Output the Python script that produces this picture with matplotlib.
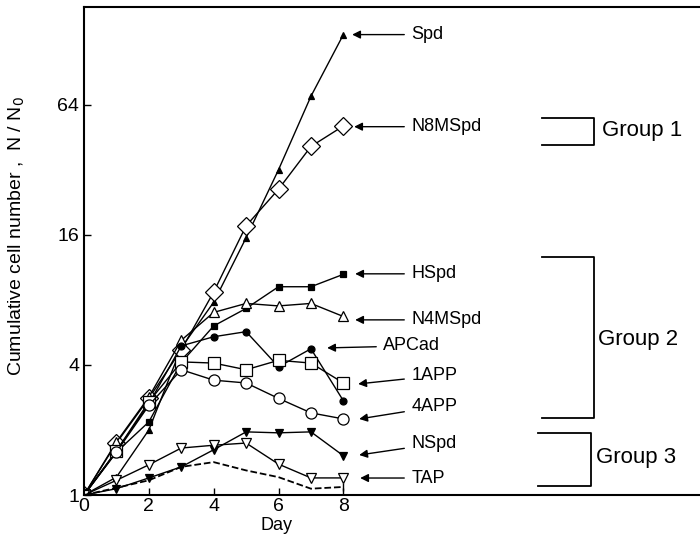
import numpy as np
import matplotlib.pyplot as plt

plt.rcParams['font.family'] = ['Liberation Sans', 'DejaVu Sans']

# du lieu doc tu hinh
days = [0, 1, 2, 3, 4, 5, 6, 7, 8]
spd = [1, 1.21, 2.0, 4.8, 7.8, 15.5, 32, 70, 135]
n8mspd = [1, 1.74, 2.8, 4.7, 8.7, 17.6, 26, 41, 51]
hspd = [1, 1.58, 2.18, 4.1, 6.06, 7.3, 9.2, 9.2, 10.5]
n4mspd = [1, 1.76, 2.84, 5.2, 7.0, 7.7, 7.5, 7.7, 6.7]
apcad = [1, 1.6, 2.64, 4.9, 5.4, 5.7, 3.92, 4.75, 2.73]
app1 = [1, 1.6, 2.7, 4.13, 4.08, 3.8, 4.2, 4.08, 3.3]
app4 = [1, 1.58, 2.6, 3.8, 3.4, 3.3, 2.8, 2.4, 2.25]
nspd = [1, 1.07, 1.2, 1.35, 1.62, 1.96, 1.94, 1.96, 1.52]
tap = [1, 1.17, 1.38, 1.65, 1.7, 1.74, 1.39, 1.2, 1.2]
control = [1, 1.08, 1.17, 1.35, 1.42, 1.3, 1.21, 1.07, 1.09]

labels = ['Spd', 'N8MSpd', 'HSpd', 'N4MSpd', 'APCad', '1APP', '4APP', 'NSpd', 'TAP']
yticks = [1, 4, 16, 64]
xticks = [0, 2, 4, 6, 8]

fig = plt.figure(figsize=(7, 5.44), dpi=100)
ax = fig.add_axes([0.12, 0.09, 0.88, 0.897])

# (du lieu, marker, kich thuoc, to mau)
series = [
    (spd, '^', 5, 'k'),
    (n8mspd, 'D', 9, 'w'),
    (hspd, 's', 5, 'k'),
    (n4mspd, '^', 7, 'w'),
    (apcad, 'o', 5, 'k'),
    (app1, 's', 9, 'w'),
    (app4, 'o', 8, 'w'),
    (nspd, 'v', 6, 'k'),
    (tap, 'v', 7, 'w'),
]
for vals, m, ms, fc in series:
    ax.plot(days, vals, '-', color='k', lw=1, marker=m, markersize=ms,
            markerfacecolor=fc, markeredgecolor='k', markeredgewidth=0.9)

ax.plot(days, control, '--', color='k', lw=1.3)
ax.plot(days[-1], control[-1], marker='|', color='k', markersize=6)

ax.set_yscale('log', base=2)
ax.set_xlim(0, 19)
ax.set_ylim(1, 2 ** 7.5)
ax.set_yticks(yticks)
ax.set_yticklabels([str(t) for t in yticks])
ax.set_xticks(xticks)
ax.minorticks_off()
ax.tick_params(direction='in', length=5, labelsize=14, width=1)
ax.tick_params(axis='x', pad=2)
for s in ['left', 'bottom', 'top']:
    ax.spines[s].set_linewidth(1.5)
ax.spines['right'].set_visible(False)

ax.set_xlabel('Day', fontsize=13)
ax.xaxis.set_label_coords(0.313, -0.045)
ax.set_ylabel('Cumulative cell number ,  N / N$_0$', fontsize=14)
ax.yaxis.set_label_coords(-0.092, 0.53)

# chu thich voi mui ten
def px2data(px, py):
    return (px - 84) / 32.4, 2 ** ((495 - py) / 65)

arrows = [
    ('Spd', (411, 35), (352, 35)),
    ('N8MSpd', (411, 127), (354, 127)),
    ('HSpd', (411, 274), (355, 274)),
    ('N4MSpd', (411, 320), (355, 320)),
    ('APCad', (383, 346), (327, 348)),
    ('1APP', (411, 376), (358, 384)),
    ('4APP', (411, 407), (359, 419)),
    ('NSpd', (411, 444), (359, 455)),
    ('TAP', (411, 478), (360, 478)),
]
for name, tpos, apos in arrows:
    ax.annotate(name, xy=px2data(*apos), xytext=px2data(*tpos),
                fontsize=13, va='center', ha='left',
                arrowprops=dict(arrowstyle='-|>', color='k', lw=1,
                                mutation_scale=12, shrinkA=3, shrinkB=0))

# ngoac nhom
groups = [
    ('Group 1', 542, 594, 118, 145, 602, 131),
    ('Group 2', 542, 594, 257, 418, 598, 340),
    ('Group 3', 538, 591, 433, 486, 596, 457),
]
for name, x0, x1, y0, y1, tx, ty in groups:
    pts = [px2data(x0, y0), px2data(x1, y0), px2data(x1, y1), px2data(x0, y1)]
    ax.plot([p[0] for p in pts], [p[1] for p in pts], color='k', lw=1.3,
            clip_on=False)
    tx, ty = px2data(tx, ty)
    ax.text(tx, ty, name, fontsize=16, va='center', ha='left')

fig.savefig('out.png', dpi=100)
